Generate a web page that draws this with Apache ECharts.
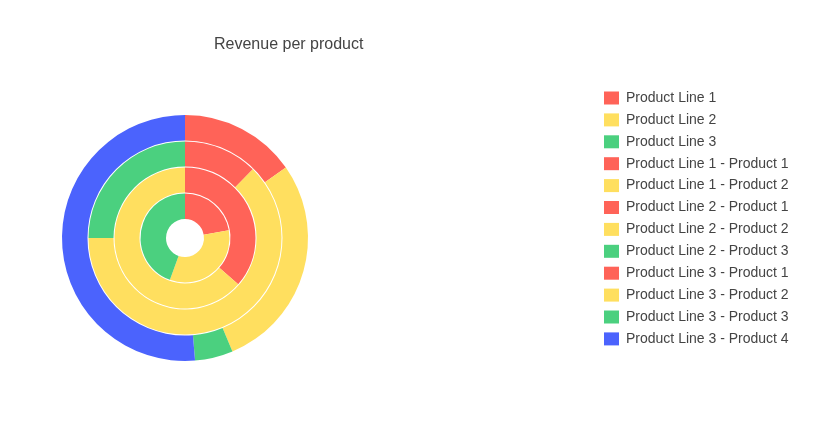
<!DOCTYPE html>
<html>
<head>
<meta charset="utf-8">
<title>Revenue per product</title>
<script src="https://cdn.jsdelivr.net/npm/echarts@6/dist/echarts.min.js"></script>
<style>
html, body { margin: 0; padding: 0; background: #fff; }
#chart { width: 825px; height: 443px; }
</style>
</head>
<body>
<div id="chart"></div>
<script>
// ring 1: product lines
var lineNames = ['Product Line 1', 'Product Line 2', 'Product Line 3'];
var lineValues = [22.2, 33.3, 44.5];
// ring 2: products of line 1
var line1Names = ['Product Line 1 - Product 1', 'Product Line 1 - Product 2'];
var line1Values = [36.4, 63.6];
// ring 3: products of line 2
var line2Names = ['Product Line 2 - Product 1', 'Product Line 2 - Product 2', 'Product Line 2 - Product 3'];
var line2Values = [12.4, 62.6, 25.0];
// ring 4: products of line 3
var line3Names = ['Product Line 3 - Product 1', 'Product Line 3 - Product 2', 'Product Line 3 - Product 3', 'Product Line 3 - Product 4'];
var line3Values = [15.3, 28.4, 5.0, 51.3];

var colors = ['#ff6358', '#ffdf5f', '#4bd07f', '#4b63fd'];
var fontName = '"Liberation Sans", Arial, sans-serif';

function ringData(names, values) {
	var res = [];
	for (var i = 0; i < names.length; i++) {
		res.push({ name: names[i], value: values[i], itemStyle: { color: colors[i] } });
	}
	return res;
}

function ring(name, names, values, radius) {
	return {
		name: name,
		type: 'pie',
		center: [185, 238],
		radius: radius,
		startAngle: 90,
		clockwise: true,
		silent: true,
		label: { show: false },
		labelLine: { show: false },
		emphasis: { disabled: true },
		animation: false,
		data: ringData(names, values)
	};
}

var myChart = echarts.init(document.getElementById('chart'));
var option = {
	backgroundColor: '#fff',
	title: {
		text: 'Revenue per product',
		left: 214,
		top: 37,
		padding: 0,
		textStyle: { color: '#444', fontSize: 16, fontWeight: 'normal', fontFamily: fontName }
	},
	legend: {
		orient: 'vertical',
		left: 604,
		top: 91,
		padding: 0,
		icon: 'rect',
		itemWidth: 15,
		itemHeight: 13,
		itemGap: 7.9,
		selectedMode: false,
		textStyle: { color: '#444', fontSize: 14, fontFamily: fontName, padding: [0, 0, 0, 2] },
		data: lineNames.concat(line1Names, line2Names, line3Names)
	},
	series: [
		ring('lines', lineNames, lineValues, [19, 44.5]),
		ring('line1', line1Names, line1Values, [45.5, 70.5]),
		ring('line2', line2Names, line2Values, [71.5, 96.5]),
		ring('line3', line3Names, line3Values, [97.5, 123])
	]
};
myChart.setOption(option, true);
</script>
</body>
</html>
